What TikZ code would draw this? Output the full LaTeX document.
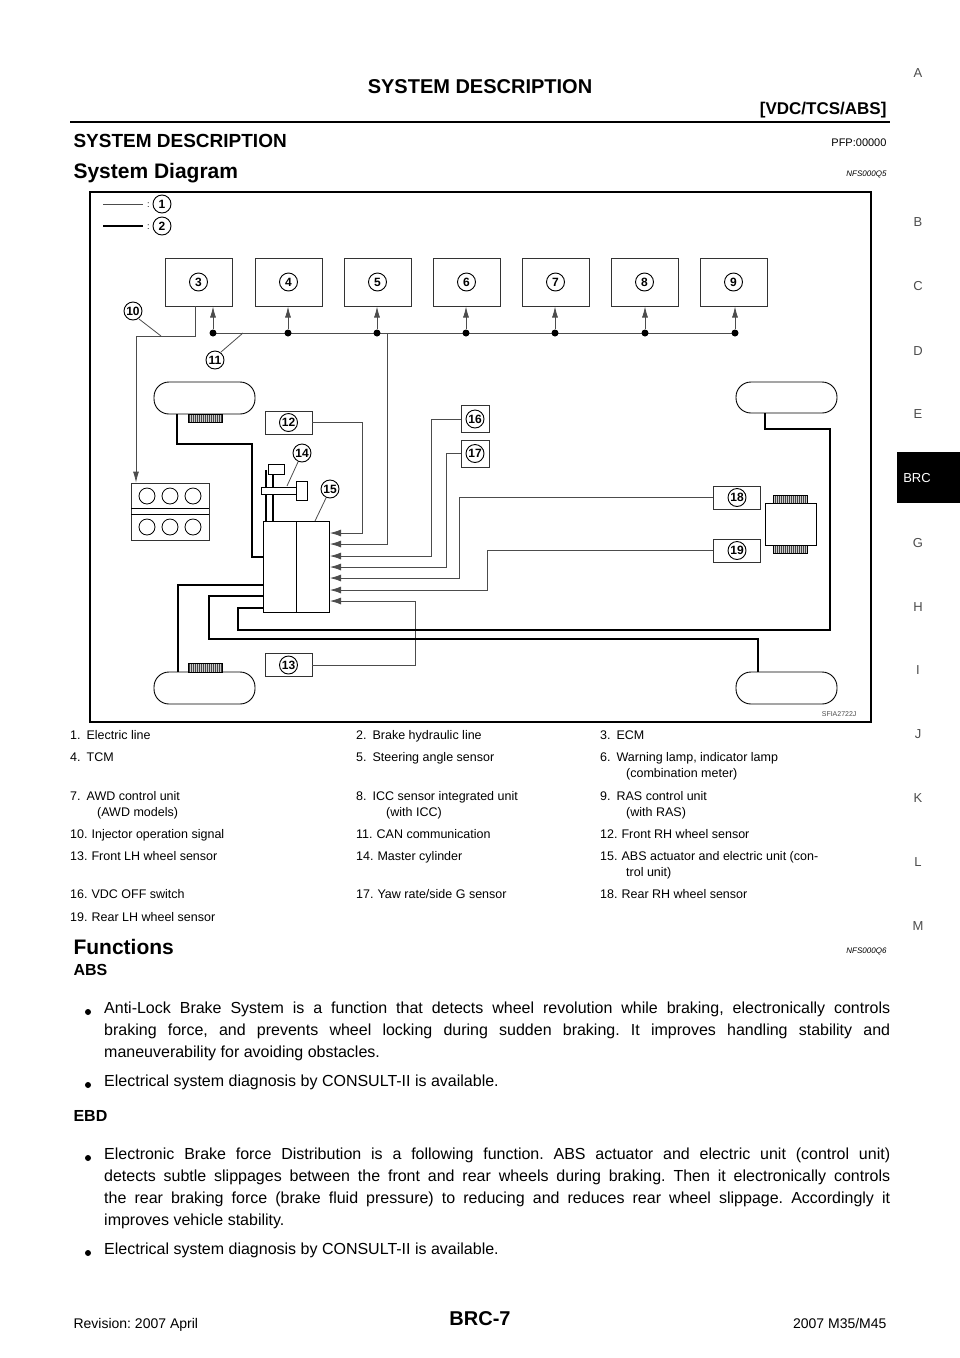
\documentclass[tikz,border=0pt]{standalone}
\usepackage{fontspec}
\setmainfont{Liberation Sans}
\usetikzlibrary{arrows.meta}
\frenchspacing
\tikzset{
  thin/.style={line width=0.8pt, black!70},
  hyd/.style={line width=2.8pt, line join=miter},
  ebox/.style={draw, line width=0.8pt, black!80, minimum width=67pt, minimum height=48pt, inner sep=0pt},
  sbox/.style={draw, line width=0.8pt, black!80, minimum width=47pt, minimum height=23pt, inner sep=0pt},
  tbox/.style={draw, line width=0.8pt, black!80, minimum width=28pt, minimum height=27pt, inner sep=0pt},
  cnum/.style={circle, draw, line width=0.9pt, inner sep=0pt, minimum size=18pt, font=\fontsize{12}{12}\selectfont\bfseries},
  pill/.style={draw, line width=0.9pt, rounded corners=15pt},
  upar/.style={thin, -{Latex[length=11pt,width=6pt]}},
  lar/.style={thin, -{Latex[length=11pt,width=7pt]}},
  dotc/.style={circle, fill, inner sep=0pt, minimum size=7pt},
  tx/.style={anchor=base west, inner sep=0pt, font=\fontsize{12.5}{15}\selectfont},
  side/.style={anchor=base, inner sep=0pt, font=\fontsize{13}{15}\selectfont, black!70},
}
\newcommand{\teeth}[4]{% x1 y1 x2 y2
  \fill[black!20] (#1,#2) rectangle (#3,#4);
  \foreach \xx in {#1,...,#3} {\ifodd\xx\draw[black!75, line width=0.6pt] (\xx,#2) -- (\xx,#4);\fi}
  \draw[line width=0.5pt] (#1,#2) rectangle (#3,#4);}
\begin{document}
\begin{tikzpicture}[x=1pt,y=-1pt]
\useasboundingbox (0,0) rectangle (960,1358);
% header
\node[font=\fontsize{20}{22}\selectfont\bfseries, anchor=base] (hd) at (480,93) {SYSTEM DESCRIPTION};
\node[font=\fontsize{17}{20}\selectfont\bfseries, anchor=base east] (hd2) at (890,114) {[VDC/TCS/ABS]};
\draw[line width=2pt] (70,122) -- (890,122);
\node[font=\fontsize{19}{22}\selectfont\bfseries, anchor=base west] (t1) at (70,147) {SYSTEM DESCRIPTION};
\node[font=\fontsize{11}{13}\selectfont, anchor=base east] (t1r) at (890,146) {PFP:00000};
\node[font=\fontsize{21}{24}\selectfont\bfseries, anchor=base west] (t2) at (70,178) {System Diagram};
\node[font=\fontsize{8}{10}\selectfont\itshape, anchor=base east] (t2r) at (890,176) {NFS000Q5};
% side letters
\foreach \l/\yy in {A/77,B/226,C/290,D/355,E/418,G/547,H/611,I/674,J/738,K/802,L/866,M/930}
  \node[side] at (918,\yy) {\l};
\fill[black] (897,452) rectangle (960,503);
\node[side, white, anchor=center] (brc) at (917,478) {BRC};
% frame
\draw[line width=1.2pt] (90,192) rectangle (871,722);
\node[font=\fontsize{7}{8}\selectfont, anchor=base east, black!70] (sf) at (860,716) {SFIA2722J};
% legend
\draw[thin] (103,204) -- (143,204);
\node[anchor=west, inner sep=1pt, font=\small] (c1) at (146,205) {:};
\node[cnum] (l1) at (162,204) {1};
\draw[line width=2.8pt] (103,226) -- (143,226);
\node[anchor=west, inner sep=1pt, font=\small] (c2) at (146,227) {:};
\node[cnum] (l2) at (162,226) {2};
% top boxes
\foreach \n/\xx in {3/198.5,4/288.5,5/377.5,6/466.5,7/555.5,8/644.5,9/733.5}
  \node[ebox] (b\n) at (\xx,282) {};
\foreach \n/\xx in {3/198.5,4/288.5,5/377.5,6/466.5,7/555.5,8/644.5,9/733.5}
  \node[cnum] at (\xx,282) {\n};
% bus
\coordinate (bs) at (213,333);
\coordinate (be) at (735,333);
\draw[thin] (bs) -- (be);
\foreach \xx/\n in {213/3,288/4,377/5,466/6,555/7,645/8,735/9} {
  \node[dotc] (d\n) at (\xx,333) {};
  \draw[upar] (d\n) -- (\xx,306.5);
}
% line 10
\coordinate (e10a) at (195,336);
\coordinate (e10b) at (136,336);
\node[draw, line width=0.8pt, black!80, minimum width=78pt, minimum height=57pt, inner sep=0pt] (eng) at (170,511.5) {};
\draw[thin, -{Latex[length=11pt,width=6pt]}] (b3.south -| e10a) -- (e10a) -- (e10b) -- (eng.north -| e10b);
\draw[line width=0.8pt] (131,508) -- (209,508) (131,514) -- (209,514);
\foreach \xx in {147,170,193} {\draw[line width=0.8pt] (\xx,496) circle (8pt) (\xx,527) circle (8pt);}
\node[cnum] (n10) at (133,311) {10};
\draw[thin] (139,319) -- (161,336);
\node[cnum] (n11) at (215,360) {11};
\draw[thin] (221,352) -- (243,333);
% ABS unit
\node[draw, line width=0.9pt, minimum width=66pt, minimum height=91pt, inner sep=0pt] (abs) at (296,566.5) {};
\draw[line width=0.8pt] (296,521) -- (296,612);
% master cylinder
\draw[line width=2.2pt] (266,521) -- (266,470) (273,521) -- (273,470);
\draw[line width=0.8pt, fill=white] (268,464) rectangle (284,474);
\draw[line width=0.8pt, fill=white] (261,487) rectangle (305,494);
\draw[line width=0.8pt, fill=white] (296,481) rectangle (307,500);
\node[cnum] (n14) at (302,453) {14};
\draw[thin] (298,462) -- (287,486);
\node[cnum] (n15) at (330,489) {15};
\draw[thin] (326,498) -- (315,521);
% sensor boxes
\node[sbox] (b12) at (288.5,422.5) {};
\node[cnum] at (288.5,422.5) {12};
\node[sbox] (b13) at (288.5,665) {};
\node[cnum] at (288.5,665) {13};
\node[tbox] (b16) at (475,419) {};
\node[cnum] at (475,419) {16};
\node[tbox] (b17) at (475,453.5) {};
\node[cnum] at (475,453.5) {17};
\node[sbox] (b18) at (737,497.5) {};
\node[cnum] at (737,497.5) {18};
\node[sbox] (b19) at (737,550.5) {};
\node[cnum] at (737,550.5) {19};
% electric lines to ABS
\foreach \i/\yy in {1/533,2/544,3/556,4/567,5/578,6/590,7/601} \coordinate (a\i) at (330,\yy);
\draw[lar] (b12.east) -| (362,533) -- (a1);
\draw[lar] (387,333) -- (387,544) -- (a2);
\draw[lar] (b16.west) -| (431,556) -- (a3);
\draw[lar] (b17.west) -| (446,567) -- (a4);
\draw[lar] (b18.west) -| (459,578) -- (a5);
\draw[lar] (b19.west) -| (487,590) -- (a6);
\draw[lar] (b13.east) -| (415,601) -- (a7);
% wheels
\node[pill, minimum width=101pt, minimum height=32pt] (wfr) at (204.5,398) {};
\node[pill, minimum width=101pt, minimum height=32pt] (wfl) at (204.5,688) {};
\node[pill, minimum width=101pt, minimum height=31pt] (wrr) at (786.5,397.5) {};
\node[pill, minimum width=101pt, minimum height=32pt] (wrl) at (786.5,688) {};
\teeth{188}{414}{222}{422}
\teeth{188}{663}{222}{672}
\node[draw, line width=0.8pt, minimum width=51pt, minimum height=42pt, inner sep=0pt] (diff) at (790.5,524) {};
\teeth{773}{495}{807}{503}
\teeth{773}{545}{807}{553}
% hydraulic lines
\draw[hyd] (177,414) -- (177,444) -- (252,444) -- (252,557) -- (263,557);
\draw[hyd] (263,585) -- (178,585) -- (178,672);
\draw[hyd] (263,596) -- (209,596) -- (209,639) -- (758,639) -- (758,672);
\draw[hyd] (263,608) -- (238,608) -- (238,630) -- (830,630) -- (830,429) -- (765,429) -- (765,413);
% table
\begin{scope}[every node/.style={tx}]
\node at (70,739) {1.\hspace{6pt}Electric line};
\node at (356,739) {2.\hspace{6pt}Brake hydraulic line};
\node at (600,739) {3.\hspace{6pt}ECM};
\node at (70,761) {4.\hspace{6pt}TCM};
\node at (356,761) {5.\hspace{6pt}Steering angle sensor};
\node at (600,761) {6.\hspace{6pt}Warning lamp, indicator lamp};
\node at (626,777) {(combination meter)};
\node at (70,800) {7.\hspace{6pt}AWD control unit};
\node at (97,816) {(AWD models)};
\node at (356,800) {8.\hspace{6pt}ICC sensor integrated unit};
\node at (386,816) {(with ICC)};
\node at (600,800) {9.\hspace{6pt}RAS control unit};
\node at (626,816) {(with RAS)};
\node at (70,838) {10.\hspace{4pt}Injector operation signal};
\node at (356,838) {11.\hspace{4pt}CAN communication};
\node at (600,838) {12.\hspace{4pt}Front RH wheel sensor};
\node at (70,860) {13.\hspace{4pt}Front LH wheel sensor};
\node at (356,860) {14.\hspace{4pt}Master cylinder};
\node at (600,860) {15.\hspace{4pt}ABS actuator and electric unit (con-};
\node at (626,876) {trol unit)};
\node at (70,898) {16.\hspace{4pt}VDC OFF switch};
\node at (356,898) {17.\hspace{4pt}Yaw rate/side G sensor};
\node at (600,898) {18.\hspace{4pt}Rear RH wheel sensor};
\node at (70,921) {19.\hspace{4pt}Rear LH wheel sensor};
\end{scope}
% functions
\node[font=\fontsize{21}{24}\selectfont\bfseries, anchor=base west] (fn) at (70,954) {Functions};
\node[font=\fontsize{8}{10}\selectfont\itshape, anchor=base east] (fnr) at (890,953) {NFS000Q6};
\node[font=\fontsize{16}{20}\selectfont\bfseries, anchor=base west] (abs1) at (70,975) {ABS};
\node[font=\fontsize{16}{20}\selectfont\bfseries, anchor=base west] (ebd) at (70,1121) {EBD};
\begin{scope}[every node/.style={anchor=north west, inner sep=0pt, text width=786pt, align=justify, font=\fontsize{16}{22}\selectfont}]
\node (p1) at (104,1002) {Anti-Lock Brake System is a function that detects wheel revolution while braking, electronically controls\linebreak braking force, and prevents wheel locking during sudden braking. It improves handling stability and\linebreak maneuverability for avoiding obstacles.};
\node (p2) at (104,1075) {Electrical system diagnosis by CONSULT-II is available.};
\node (p3) at (104,1148) {Electronic Brake force Distribution is a following function. ABS actuator and electric unit (control unit)\linebreak detects subtle slippages between the front and rear wheels during braking. Then it electronically controls\linebreak the rear braking force (brake fluid pressure) to reducing and reduces rear wheel slippage. Accordingly it\linebreak improves vehicle stability.};
\node (p4) at (104,1243) {Electrical system diagnosis by CONSULT-II is available.};
\end{scope}
\foreach \yy in {1012,1085,1158,1253} \fill (88,\yy) circle (3pt);
% footer
\node[font=\fontsize{14}{16}\selectfont, anchor=base west] (f1) at (70,1328) {Revision: 2007 April};
\node[font=\fontsize{20}{22}\selectfont\bfseries, anchor=base] (f2) at (480,1325) {BRC-7};
\node[font=\fontsize{14}{16}\selectfont, anchor=base east] (f3) at (890,1328) {2007 M35/M45};
\end{tikzpicture}
\end{document}
